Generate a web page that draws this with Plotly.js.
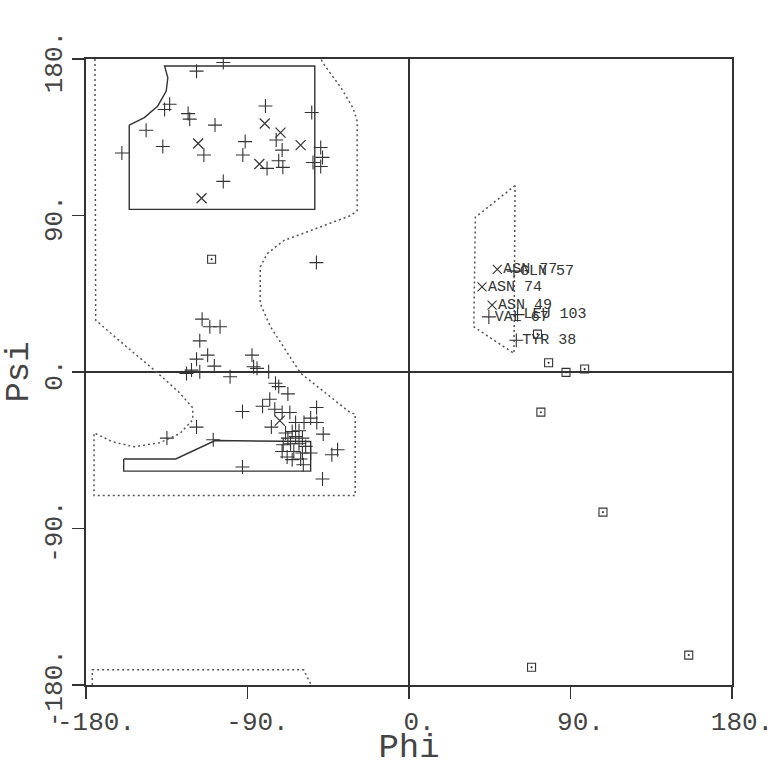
<!DOCTYPE html>
<html>
<head>
<meta charset="utf-8">
<script src="https://cdn.plot.ly/plotly-3.0.1.min.js"></script>
<style>html,body{margin:0;padding:0;background:#fff;}#chart{width:778px;height:767px;}</style>
</head>
<body>
<div id="chart"></div>
<script>
// ---- data (phi, psi in degrees) ----
const plusPhi = [-103.5,-118.4,-133.4,-136.2,-123.1,-122.2,-108.1,-146.5,-137.2,-160,-114.3,-103.5,
  -80,-74,-91.3,-70.7,-92.6,-79.1,-72.6,-70.3,-54.2,-49.2,-48.2,-53.5,-49.2,
  -51.6,-115.3,-111,-105.3,-116.6,-112.2,-118.4,-108.5,-124,-121.2,-116.6,-99.7,
  -87.5,-86.6,-84.7,-78.2,
  -74.4,-72.6,-67.5,-77.6,-81.6,-92.8,-51.5,-74.8,-70.7,-66.4,-76.7,-63.2,-58.5,-54.8,-51.4,-47.8,
  -68.8,-65.1,-61.3,-67.5,-63.2,-59.4,-70.1,-66,-61.3,-57.6,-70.7,-64.2,-59.4,-54.8,-67.9,-65.1,
  -60.4,-58.9,-43,-39.8,-92.8,-48.2,-118.4,-134.9,-109.1];
const plusPsi = [178,173,154,151,148.6,145.4,142,139,129.7,125.9,124.8,109.6,
  153,133.4,132.5,127.6,124.8,117.1,121.5,117.7,149.2,129.1,123.4,120.5,118.2,
  62.9,30.4,26,26,17.9,9.7,7.4,3.4,-0.8,1.1,0.2,-2.7,
  9.7,3,2.1,0.2,
  -6.5,-8.4,-12.6,-15.7,-19.7,-22.7,-20.4,-21.4,-23.3,-23.3,-31.7,-29,-29,-26.5,-29,-35.7,
  -35.1,-34.2,-33.8,-38,-37.1,-38,-41.8,-41.3,-41.3,-42.8,-45.7,-45.7,-46.6,-46.6,-48.9,-50.4,
  -50,-53.3,-47.6,-44.7,-54.6,-61.5,-31.7,-38,-39];

const crossPhi = [-117.5,-115.6,-80.4,-71.6,-60.4,-83.4,-72];
const crossPsi = [131.4,99.9,142.9,137.7,130.5,119.6,-28];

const glyPhi = [-110,73.5,108.1,155.9,68.3,77.8,87.5,97.9,71.6];
const glyPsi = [64.8,-23.1,-80.6,-162.8,-169.8,5.3,-0.2,1.7,21.8];

const labXPhi = [49.2,40.7,46.3];
const labXPsi = [59,48.9,38.4];
const labXText = ["ASN 77","ASN 74","ASN 49"];

const labPPhi = [58.5,44.5,60.5,59.8];
const labPPsi = [58,31.7,33,18.3];
const labPText = ["GLN 57","VAL 67","LEU 103","TYR 38"];

// region boundaries
const coreBetaPhi = [-155.9,-155.9,-52.5,-52.5,-136.2,-134.4,-135.3,-140,-147.5,-155.9];
const coreBetaPsi = [142,93.5,93.5,176,176,169.2,161.6,153,146.3,142];
const coreAlphaPhi = [-159,-130,-108,-54.8,-54.8,-159,-159];
const coreAlphaPsi = [-50,-50,-39.4,-40,-57,-57,-50];

const allowPhi = [-175,-174.6,-159.8,-140.7,-127.8,-120.5,-120.5,-127.8,-139,-153.1,-165.4,-175.5,-175.5,-30,-30,-32.3,-60.4,-77.2,-82.9,-82.9,-79.1,-69.8,-32.3,-28.9,-28.9,-31.3,-37.9,-48.2,-49];
const allowPsi = [180,29.8,16.6,0,-12,-20.6,-27.5,-35.5,-40.7,-43,-40.1,-35,-71,-71,-24,-23.7,-0.7,26,39.4,60.3,68,75.6,90,92.8,144.4,152,163.5,178,180];
const allowBotPhi = [-176.5,-176.5,-58.7,-54.5];
const allowBotPsi = [-180,-171.3,-171.3,-180];
const allowLPhi = [59.1,37,36.1,58.5,59.1];
const allowLPsi = [107.2,89,26,10.7,107.2];

const tickVals = [-180,-90,0,90,180];
const tickText = ["-180.","-90.","0.","90.","180."];

// ---- traces ----
const ink = "#333";
const mono = "Liberation Mono, monospace";
const dotLine = {color:"#555", width:1.5, dash:"2px,3px"};
const solidLine = {color:"#333", width:1.4};
const labelFont = {family:mono, size:15, color:ink};
const traces = [
  {x:allowPhi, y:allowPsi, mode:"lines", line:dotLine, hoverinfo:"skip"},
  {x:allowBotPhi, y:allowBotPsi, mode:"lines", line:dotLine, hoverinfo:"skip"},
  {x:allowLPhi, y:allowLPsi, mode:"lines", line:dotLine, hoverinfo:"skip"},
  {x:coreBetaPhi, y:coreBetaPsi, mode:"lines", line:solidLine, hoverinfo:"skip"},
  {x:coreAlphaPhi, y:coreAlphaPsi, mode:"lines", line:solidLine, hoverinfo:"skip"},
  {x:plusPhi, y:plusPsi, mode:"markers", marker:{symbol:"cross-thin", size:10, line:{color:ink, width:1.1}}},
  {x:crossPhi, y:crossPsi, mode:"markers", marker:{symbol:"x-thin", size:10, line:{color:ink, width:1.2}}},
  {x:glyPhi, y:glyPsi, mode:"markers", marker:{symbol:"square-open-dot", size:8, color:ink, line:{color:ink, width:1.1}}},
  {x:labXPhi, y:labXPsi, mode:"markers", marker:{symbol:"x-thin", size:9, line:{color:ink, width:1.1}}},
  {x:labPPhi, y:labPPsi, mode:"markers", marker:{symbol:"cross-thin", size:10, line:{color:ink, width:1.1}}},
  {x:labXPhi, y:labXPsi, text:labXText, mode:"markers+text", textposition:"middle right",
   textfont:labelFont, marker:{size:8, opacity:0}},
  {x:labPPhi, y:labPPsi, text:labPText, mode:"markers+text", textposition:"middle right",
   textfont:labelFont, marker:{size:8, opacity:0}}
];

const axisCommon = {
  range:[-180,180], autorange:false, showgrid:false,
  zeroline:true, zerolinecolor:"#333", zerolinewidth:1.3,
  showline:true, mirror:true, linecolor:"#333", linewidth:1.6,
  ticks:"outside", ticklen:12, tickwidth:1.3, tickcolor:"#333",
  tickvals:tickVals, ticktext:tickText,
  tickfont:{family:mono, size:26, color:"#444"}
};

const layout = {
  width:778, height:767,
  margin:{l:86, r:46, t:59, b:82},
  paper_bgcolor:"#fff", plot_bgcolor:"#fff",
  showlegend:false,
  font:{family:mono, color:"#444"},
  xaxis:Object.assign({}, axisCommon, {
    ticklabelshift:10,
    title:{text:"Phi", font:{family:mono, size:34, color:"#444"}, standoff:4}
  }),
  yaxis:Object.assign({}, axisCommon, {
    tickangle:-90, ticklabelshift:7,
    title:{text:"Psi", font:{family:mono, size:34, color:"#444"}, standoff:12}
  })
};

Plotly.newPlot("chart", traces, layout, {staticPlot:true, displayModeBar:false});
</script>
</body>
</html>
